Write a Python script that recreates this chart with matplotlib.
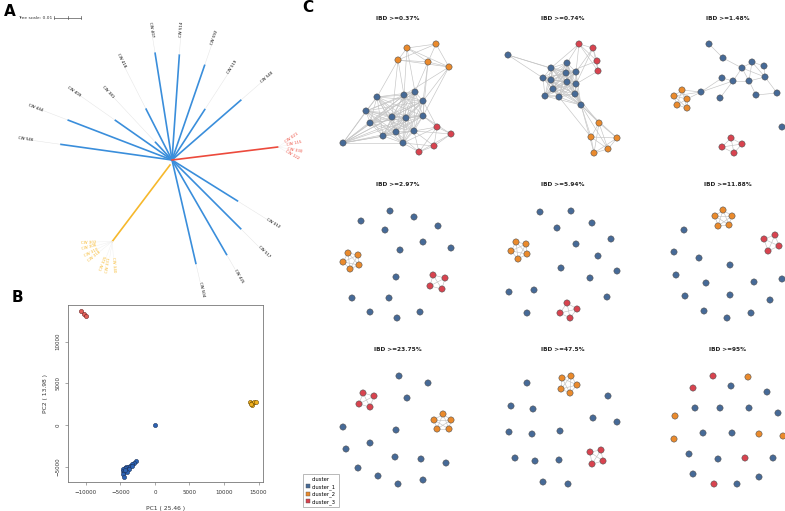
import numpy as np
import matplotlib
matplotlib.use("Agg")
import matplotlib.pyplot as plt
from matplotlib.lines import Line2D

W, H = 785, 511

# ---------------- panel A: tree data ----------------
blue_tips = ["CW 546", "CW 444", "CW 409", "CW 381", "CW 418", "CW 407", "CW 514",
             "CW 592", "CW 519", "CW 540", "CW 012", "CW 517", "CW 425", "CW 504"]
blue_angle = [172, 159, 145, 133, 117, 99, 86, 71, 57, 41, -32, -45, -60, -77]
blue_len = [113, 112, 70, 25, 58, 109, 106, 101, 61, 92, 78, 98, 110, 107]
blue_lab_r = [140, 138, 112, 86, 104, 124, 123, 122, 103, 118, 112, 122, 126, 125]

red_tips = ["CW 021", "CW 115", "CW 330", "CW 122"]
red_clade = (7, 107)
red_fan = [35, 12, -10, -30]

yellow_tips = ["CW 302", "CW 306", "CW 310", "CW 318", "CW 325", "CW 331", "CW 340"]
yellow_clade = (-128, 97)
yellow_fan = [182, 195, 207, 219, 249, 261, 274]

# ---------------- panel B: PCA data ----------------
pc_red_x = [-10650, -10350, -10050]
pc_red_y = [13700, 13350, 13050]
pc_orange_x = [13700, 14000, 14300, 14600, 14100, 13900]
pc_orange_y = [2750, 2600, 2800, 2750, 2450, 2500]
pc_blue_x = [0, -2700, -3100, -3300, -3600, -3900, -4200, -4400, -4600, -4700, -4500,
             -3700, -4100, -4600, -4500, -3400, -4300]
pc_blue_y = [0, -4300, -4600, -4700, -4900, -5100, -5100, -5200, -5300, -5500, -5700,
             -5300, -5600, -5900, -6200, -4900, -5400]

# ---------------- panel C: IBD networks ----------------
titles = ["IBD >=0.37%", "IBD >=0.74%", "IBD >=1.48%",
          "IBD >=2.97%", "IBD >=5.94%", "IBD >=11.88%",
          "IBD >=23.75%", "IBD >=47.5%", "IBD >=95%"]
# node order in each layout: 14 cluster_1, 5 cluster_2, 4 cluster_3
groups = [0] * 14 + [1] * 5 + [2] * 4
layouts = [
    [(57, 97), (84, 95), (95, 92), (103, 101), (46, 111), (72, 117), (86, 118), (103, 116),
     (50, 123), (63, 136), (76, 132), (94, 131), (83, 143), (23, 143),
     (87, 48), (116, 44), (78, 60), (108, 62), (129, 67),
     (117, 127), (131, 134), (114, 146), (99, 152)],
    [(66, 68), (82, 63), (58, 78), (66, 80), (81, 73), (91, 72), (82, 82), (91, 84),
     (68, 89), (60, 96), (74, 97), (90, 94), (96, 105), (23, 55),
     (114, 123), (106, 137), (132, 138), (123, 149), (109, 153),
     (94, 44), (108, 48), (112, 61), (113, 71)],
    [(59, 44), (73, 58), (92, 68), (102, 62), (114, 66), (115, 77), (72, 78), (83, 81),
     (99, 81), (51, 92), (70, 98), (106, 95), (127, 93), (132, 127),
     (32, 90), (24, 96), (37, 99), (27, 105), (37, 108),
     (81, 138), (72, 147), (92, 144), (84, 153)],
    [(70, 46), (41, 56), (94, 52), (65, 65), (118, 61), (103, 77), (80, 85), (131, 83),
     (76, 112), (32, 133), (69, 133), (50, 147), (100, 147), (77, 153),
     (28, 88), (38, 90), (23, 97), (39, 100), (30, 104),
     (113, 110), (125, 113), (110, 121), (122, 124)],
    [(55, 47), (86, 46), (72, 63), (107, 58), (91, 79), (126, 74), (113, 91), (76, 103),
     (132, 106), (105, 113), (24, 127), (49, 125), (122, 132), (42, 148),
     (31, 77), (41, 79), (26, 86), (42, 89), (33, 94),
     (82, 138), (92, 144), (75, 148), (85, 153)],
    [(34, 65), (24, 87), (49, 93), (26, 110), (80, 100), (56, 118), (104, 117), (35, 131),
     (80, 130), (132, 114), (120, 135), (54, 146), (101, 148), (77, 153),
     (73, 45), (65, 51), (82, 51), (68, 61), (79, 60),
     (114, 74), (125, 70), (118, 86), (129, 81)],
    [(79, 46), (108, 53), (87, 68), (23, 97), (76, 100), (26, 119), (50, 113), (75, 127),
     (101, 129), (126, 133), (38, 138), (58, 146), (78, 154), (103, 150),
     (123, 84), (114, 90), (131, 90), (117, 99), (129, 99),
     (43, 63), (54, 66), (39, 74), (50, 77)],
    [(42, 53), (123, 66), (26, 76), (48, 79), (108, 88), (132, 92), (24, 102), (47, 104),
     (75, 101), (30, 128), (50, 131), (74, 130), (58, 152), (83, 154),
     (77, 48), (86, 46), (92, 55), (76, 59), (85, 63),
     (105, 122), (116, 120), (107, 134), (118, 131)],
    [(81, 56), (117, 62), (45, 78), (70, 78), (99, 78), (128, 83), (53, 103), (82, 103),
     (39, 124), (68, 129), (123, 128), (43, 144), (87, 154), (109, 147),
     (98, 47), (25, 86), (24, 109), (109, 104), (133, 106),
     (63, 46), (43, 58), (95, 128), (64, 154)],
]
blue_ids = list(range(14))
orange_ids = list(range(14, 19))
red_ids = list(range(19, 23))
cliques = [
    [blue_ids, orange_ids, red_ids],
    [list(range(13)), orange_ids, red_ids],
    [orange_ids, red_ids],
    [orange_ids, red_ids], [orange_ids, red_ids], [orange_ids, red_ids],
    [orange_ids, red_ids], [orange_ids, red_ids], [],
]
extra_edges = [
    [(16, 0), (16, 1), (16, 5), (14, 1), (14, 2), (17, 2), (17, 3), (17, 7), (18, 3),
     (18, 7), (18, 1), (19, 7), (19, 11), (19, 12), (19, 3), (20, 11), (20, 7),
     (21, 12), (21, 11), (22, 12), (22, 10), (22, 11)],
    [(13, 0), (13, 2), (13, 4), (12, 14), (12, 15), (12, 16), (12, 17), (12, 18),
     (11, 14), (10, 15), (19, 1), (19, 5), (20, 5), (21, 4), (22, 7), (19, 0), (20, 7)],
    [(0, 1), (1, 2), (2, 3), (3, 4), (4, 5), (2, 5), (3, 5), (2, 7), (2, 8), (7, 6),
     (7, 8), (8, 11), (11, 12), (5, 12), (8, 5), (6, 9), (9, 7), (10, 7), (3, 8),
     (9, 14), (9, 16), (9, 15)],
    [], [], [], [], [], [],
]
cluster_names = ["cluster_1", "cluster_2", "cluster_3"]
net_colors = ["#466a97", "#ea8a2c", "#d8434f"]

fig = plt.figure(figsize=(W / 100, H / 100), dpi=100)

# ---------- A: unrooted tree drawn in pixel space ----------
axA = fig.add_axes([0, 0, 1, 1])
axA.set_xlim(0, W)
axA.set_ylim(H, 0)
axA.axis("off")
cx, cy = 172, 160
tree_blue, tree_red, tree_yel = "#3a8edb", "#ec4a3c", "#f6b82c"


def pt(x0, y0, ang, r):
    a = np.deg2rad(ang)
    return x0 + r * np.cos(a), y0 - r * np.sin(a)


def tip_label(x, y, ang, text, color):
    a = ang % 360
    if 90 < a < 270:
        axA.text(x, y, text, rotation=a - 180, ha="right", va="center",
                 rotation_mode="anchor", fontsize=2.8, color=color)
    else:
        axA.text(x, y, text, rotation=a if a <= 90 else a - 360, ha="left", va="center",
                 rotation_mode="anchor", fontsize=2.8, color=color)


for name, ang, ln, lr in zip(blue_tips, blue_angle, blue_len, blue_lab_r):
    ex, ey = pt(cx, cy, ang, ln)
    lx, ly = pt(cx, cy, ang, lr)
    axA.plot([cx, ex], [cy, ey], color=tree_blue, lw=1.2, solid_capstyle="butt")
    axA.plot([ex, lx], [ey, ly], color="#e4e4e4", lw=0.35)
    tip_label(lx, ly, ang, name, "black")

rx, ry = pt(cx, cy, *red_clade)
axA.plot([cx, rx], [cy, ry], color=tree_red, lw=1.2)
for name, ang in zip(red_tips, red_fan):
    lx, ly = pt(rx, ry, ang, 9)
    axA.plot([rx, lx], [ry, ly], color="#eeeeee", lw=0.3)
    tip_label(lx, ly, ang, name, tree_red)

yx, yy = pt(cx, cy + 5, *yellow_clade)
axA.plot([cx - 2, yx], [cy + 5, yy], color=tree_yel, lw=1.2)
for name, ang in zip(yellow_tips, yellow_fan):
    lx, ly = pt(yx, yy, ang, 16)
    axA.plot([yx, lx], [yy, ly], color="#eeeeee", lw=0.3)
    tip_label(lx, ly, ang, name, tree_yel)

axA.text(18, 18, "Tree scale: 0.01", fontsize=3.2, va="center", color="#333333")
axA.plot([54, 81], [18, 18], color="#555555", lw=0.5)
for tx in (54, 67.5, 81):
    axA.plot([tx, tx], [16.5, 19.5], color="#555555", lw=0.5)

fig.text(4 / W, 1 - 12 / H, "A", fontsize=11, fontweight="bold", va="center")
fig.text(12 / W, 1 - 297 / H, "B", fontsize=11, fontweight="bold", va="center")
fig.text(302 / W, 1 - 8 / H, "C", fontsize=11, fontweight="bold", va="center")

# ---------- B: PCA ----------
axB = fig.add_axes([68 / W, 1 - 482 / H, 195 / W, 177 / H])
axB.scatter(pc_blue_x, pc_blue_y, s=9, c="#2c63b5", edgecolors="#1b2f55", linewidths=0.4, zorder=3)
axB.scatter(pc_orange_x, pc_orange_y, s=9, c="#f2b11f", edgecolors="#6b4a00", linewidths=0.4, zorder=3)
axB.scatter(pc_red_x, pc_red_y, s=9, c="#e2605a", edgecolors="#6a2020", linewidths=0.4, zorder=3)
axB.set_xlim(-12600, 15650)
axB.set_ylim(-6850, 14400)
axB.set_xticks([-10000, -5000, 0, 5000, 10000, 15000])
axB.set_yticks([-5000, 0, 5000, 10000])
axB.tick_params(labelsize=4, length=2.5, width=0.4, color="#666666", labelcolor="#333333", pad=3)
for lab in axB.get_yticklabels():
    lab.set_rotation(90)
    lab.set_va("center")
for s in axB.spines.values():
    s.set_color("#777777")
    s.set_linewidth(0.6)
axB.set_xlabel("PC1 ( 25.46 )", fontsize=4.3, color="#333333", labelpad=8)
axB.set_ylabel("PC2 ( 13.98 )", fontsize=4.3, color="#333333", labelpad=5)

# ---------- C: networks ----------
x_orig = [320, 485, 650]
y_orig = [0, 165, 330]
for i in range(9):
    r, c = divmod(i, 3)
    ax = fig.add_axes([x_orig[c] / W, 1 - (y_orig[r] + 165) / H, 165 / W, 165 / H])
    ax.set_xlim(0, 165)
    ax.set_ylim(165, 0)
    ax.axis("off")
    pos = layouts[i]
    pairs = []
    for grp in cliques[i]:
        for a in range(len(grp)):
            for b in range(a + 1, len(grp)):
                pairs.append((grp[a], grp[b]))
    pairs += extra_edges[i]
    for a, b in pairs:
        ax.plot([pos[a][0], pos[b][0]], [pos[a][1], pos[b][1]], color="#c4c4c4",
                lw=0.45, zorder=1)
    xs = [p[0] for p in pos]
    ys = [p[1] for p in pos]
    ax.scatter(xs, ys, s=20, c=[net_colors[g] for g in groups], edgecolors="#555555",
               linewidths=0.4, zorder=2)
    ax.text(78, 19, titles[i], fontsize=4.2, fontweight="bold", ha="center", va="center",
            color="#222222")

handles = [Line2D([], [], marker="s", ls="", markersize=3.2, markerfacecolor=col,
                  markeredgecolor="#555555", markeredgewidth=0.3) for col in net_colors]
leg = fig.legend(handles, cluster_names, title="cluster", loc="lower left",
                 bbox_to_anchor=(300 / W, 1 / H), fontsize=3.8, title_fontsize=3.8,
                 frameon=True, fancybox=False, edgecolor="#999999", handletextpad=0.3,
                 borderpad=0.5, labelspacing=0.35, handlelength=1.0)
leg.get_frame().set_linewidth(0.6)

fig.savefig("out.png", dpi=100)
